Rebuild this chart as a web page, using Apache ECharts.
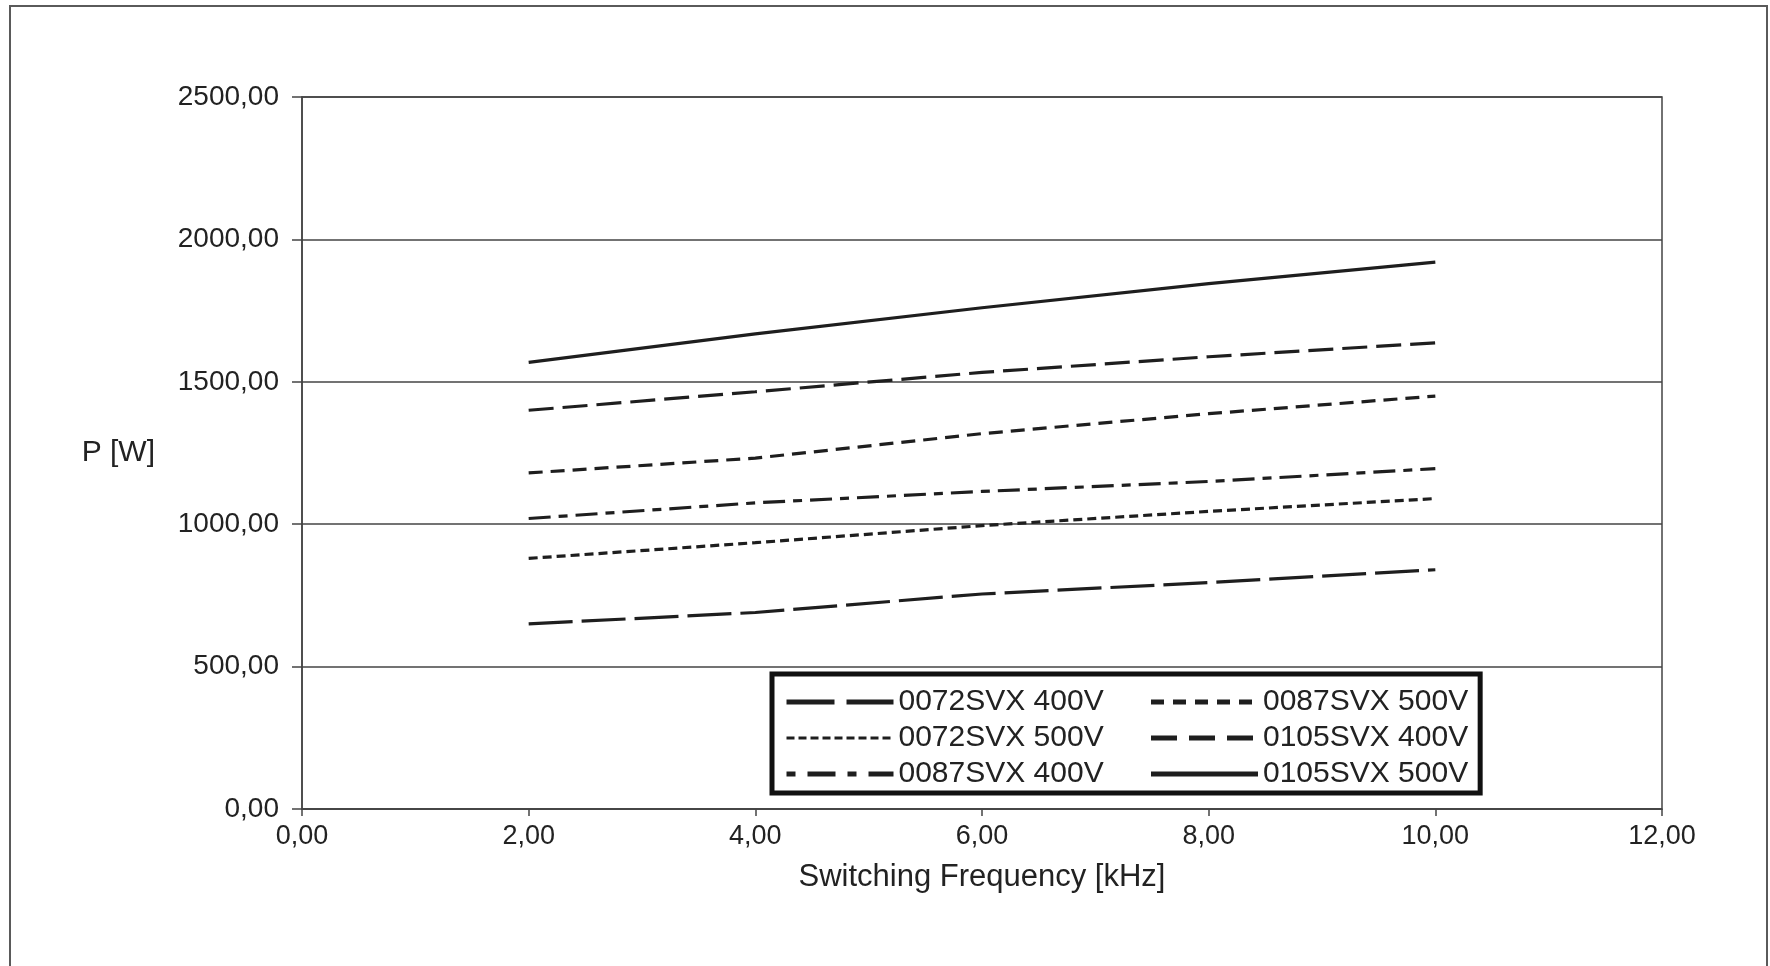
<!DOCTYPE html>
<html>
<head>
<meta charset="utf-8">
<script src="https://cdn.jsdelivr.net/npm/echarts@6/dist/echarts.min.js"></script>
<style>
html,body{margin:0;padding:0;background:#fff;width:1770px;height:966px;overflow:hidden;}
#frame{position:absolute;left:9px;top:5px;width:1759px;height:980px;border:2px solid #5a5a5a;box-sizing:border-box;}
#chart{position:absolute;left:0;top:0;width:1770px;height:966px;}
</style>
</head>
<body>
<div id="frame"></div>
<div id="chart"></div>
<script>
// ---- data ----
const freqs = [2, 4, 6, 8, 10];
const s0072_400 = [650, 690, 755, 795, 840];
const s0072_500 = [880, 935, 995, 1045, 1090];
const s0087_400 = [1020, 1075, 1115, 1150, 1195];
const s0087_500 = [1180, 1232, 1318, 1388, 1450];
const s0105_400 = [1400, 1465, 1533, 1588, 1637];
const s0105_500 = [1568, 1668, 1760, 1845, 1920];
const seriesNames = ['0072SVX 400V', '0072SVX 500V', '0087SVX 400V', '0087SVX 500V', '0105SVX 400V', '0105SVX 500V'];
const seriesValues = [s0072_400, s0072_500, s0087_400, s0087_500, s0105_400, s0105_500];
const xTicks = [0, 2, 4, 6, 8, 10, 12];
const yTicks = [0, 500, 1000, 1500, 2000, 2500];

// ---- styles ----
const dashes = [[44, 9], [9, 5], [22, 8, 9, 8], [14, 8], [25, 9], 'solid'];
const legendDashes = [[48, 12], [8, 4], [9, 12, 28, 12], [13, 9], [26, 12], 'solid'];
const legendWidths = [5, 3, 5, 5, 5, 5];
const fmt = v => v.toFixed(2).replace('.', ',');
const FONT = '"Liberation Sans", Arial, sans-serif';
const ink = '#1e1e1e';

const chart = echarts.init(document.getElementById('chart'), null, {renderer: 'canvas'});
const series = seriesNames.map((n, i) => ({
  name: n,
  type: 'line',
  symbol: 'none',
  showSymbol: false,
  smooth: false,
  data: freqs.map((f, j) => [f, seriesValues[i][j]]),
  lineStyle: {color: ink, width: 3.2, type: dashes[i]},
  itemStyle: {color: ink},
  z: 3
}));

const legendData = seriesNames.map((n, i) => ({
  name: n,
  itemStyle: {opacity: 0, borderWidth: 0},
  lineStyle: {color: ink, width: legendWidths[i], type: legendDashes[i], opacity: 1},
  textStyle: i < 3 ? {width: 244} : {}
}));

chart.setOption({
  animation: false,
  backgroundColor: 'transparent',
  grid: {left: 302, top: 97, right: 108, bottom: 157, show: true, borderColor: '#444', borderWidth: 1.5, containLabel: false},
  xAxis: {
    type: 'value', min: 0, max: 12, interval: 2,
    name: 'Switching Frequency [kHz]', nameLocation: 'middle', nameGap: 53,
    nameTextStyle: {fontFamily: FONT, fontSize: 31, color: '#222'},
    axisLine: {show: true, onZero: false, lineStyle: {color: '#444', width: 1.5}},
    axisTick: {show: true, inside: false, length: 7, lineStyle: {color: '#444', width: 1.5}},
    axisLabel: {fontFamily: FONT, fontSize: 27, color: '#222', margin: 14,
      formatter: v => xTicks.includes(v) ? fmt(v) : ''},
    splitLine: {show: false}
  },
  yAxis: {
    type: 'value', min: 0, max: 2500, interval: 500,
    name: 'P [W]', nameLocation: 'middle', nameRotate: 0, nameGap: 147,
    nameTextStyle: {fontFamily: FONT, fontSize: 30, color: '#222'},
    axisLine: {show: true, lineStyle: {color: '#444', width: 1.5}},
    axisTick: {show: true, inside: false, length: 10, lineStyle: {color: '#444', width: 1.5}},
    axisLabel: {fontFamily: FONT, fontSize: 28, color: '#222', margin: 23,
      formatter: v => yTicks.includes(v) ? fmt(v) : ''},
    splitLine: {show: true, lineStyle: {color: '#444', width: 1.5}}
  },
  legend: {
    orient: 'vertical',
    left: 772, top: 674, height: 125,
    padding: [13, 12, 4, 12],
    itemGap: 6,
    itemWidth: 107, itemHeight: 16,
    borderColor: '#111', borderWidth: 5, backgroundColor: '#fff',
    itemStyle: {opacity: 0, borderWidth: 0},
    textStyle: {fontFamily: FONT, fontSize: 30, color: '#222', lineHeight: 28},
    selectedMode: false,
    data: legendData
  },
  series: series
});
</script>
</body>
</html>
